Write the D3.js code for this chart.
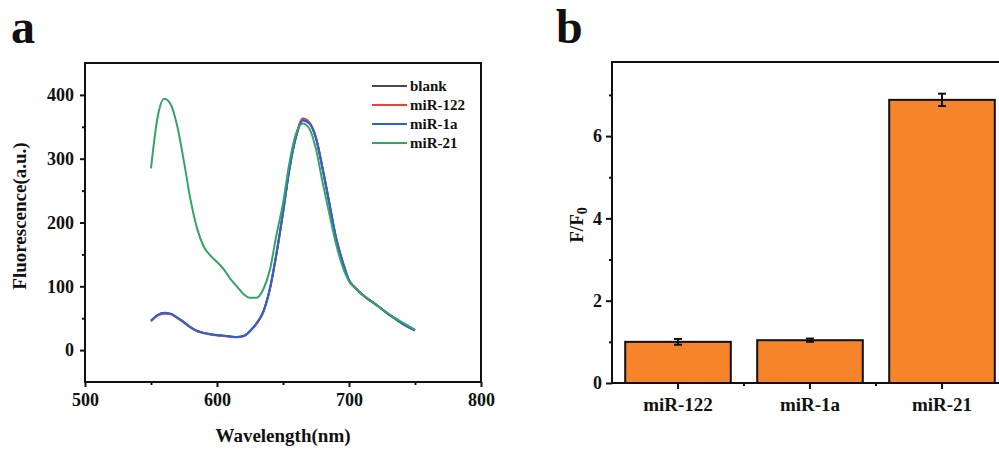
<!DOCTYPE html>
<html>
<head>
<meta charset="utf-8">
<script src="https://cdn.jsdelivr.net/npm/d3@7"></script>
<style>
  body { margin: 0; background: #fff; }
  svg { display: block; }
  text { font-family: "Liberation Serif", "Times New Roman", serif; font-weight: bold; fill: #111; }
</style>
</head>
<body>
<svg width="999" height="450"></svg>
<script>
// ---- data ----
const wavelengths = [550, 555, 560, 565, 570, 575, 580, 585, 590, 595,
                     600, 605, 610, 615, 620, 625, 630, 635, 640, 645,
                     650, 655, 660, 665, 670, 675, 680, 685, 690, 695,
                     700, 705, 710, 715, 720, 725, 730, 735, 740, 745, 750]

const blank  = [46, 55, 58, 56.5, 50.5, 43.5, 35.5, 30, 27, 25,
                23.5, 22.5, 21.5, 20.5, 22, 30, 42, 60, 96, 151,
                216, 286, 336, 361, 356, 332, 284, 231, 177, 139,
                109, 97, 87, 79, 72, 64, 56, 49, 42, 36, 31]
const mir122 = [45, 54, 57, 56, 50, 43, 35, 29.5, 26.5, 24.5,
                23, 22, 21, 20, 21.5, 29.5, 41.5, 59, 95, 150,
                215, 286, 337, 363, 357, 333, 285, 232, 178, 140,
                109, 97, 87, 79, 72, 64, 56.5, 49.5, 43, 36.5, 31]
const mir1a  = [46, 55, 58.5, 57, 51, 44, 36, 30, 27, 25,
                23.5, 22.5, 21.5, 20.5, 22, 30, 42, 60, 95, 150,
                215, 285, 335, 360, 355, 332, 285, 232, 178, 140,
                110, 97, 87, 79, 72, 64, 56, 49, 42, 36, 31]
const mir21  = [285, 365, 394, 385, 350, 295, 235, 190, 162, 148,
                138, 127, 112, 100, 88, 82, 82, 95, 125, 180,
                230, 295, 340, 355, 347, 315, 263, 215, 168, 132,
                108, 97, 87, 80, 72, 64, 57, 50, 44, 38, 32]

const seriesNames  = ['blank', 'miR-122', 'miR-1a', 'miR-21']
const seriesColors = ['#4a4a4a', '#e8403c', '#2763d8', '#33a466']

const xTicksA = [500, 600, 700, 800]
const xMinorA = [550, 650, 750]
const yTicksA = [0, 100, 200, 300, 400]
const yMinorA = [50, 150, 250, 350]

const categories = ['miR-122', 'miR-1a', 'miR-21']
const ratios     = [1.00, 1.04, 6.88]
const ratioErr   = [0.07, 0.04, 0.15]
const yTicksB = [0, 2, 4, 6]
const yMinorB = [1, 3, 5, 7]

const svg = d3.select('svg')

// ---------------- panel a ----------------
const x = d3.scaleLinear().domain([500, 800]).range([85, 481])
const y = d3.scaleLinear().domain([-50, 450]).range([382, 63])

svg.append('text').attr('x', 11).attr('y', 43)
  .style('font-size', '48px').text('a')

const gA = svg.append('g')

// x axis (major + minor)
gA.append('g').attr('transform', 'translate(0,382)')
  .call(d3.axisBottom(x).tickValues(xTicksA).tickSize(5).tickPadding(6))
  .call(g => g.select('.domain').remove())
  .call(g => g.selectAll('text').style('font-size', '18px').attr('fill', '#111'))
gA.append('g').attr('transform', 'translate(0,382)')
  .call(d3.axisBottom(x).tickValues(xMinorA).tickSize(3).tickFormat(''))
  .call(g => g.select('.domain').remove())

// y axis (major + minor)
gA.append('g').attr('transform', 'translate(85,0)')
  .call(d3.axisLeft(y).tickValues(yTicksA).tickSize(5).tickPadding(6))
  .call(g => g.select('.domain').remove())
  .call(g => g.selectAll('text').style('font-size', '18px').attr('fill', '#111'))
gA.append('g').attr('transform', 'translate(85,0)')
  .call(d3.axisLeft(y).tickValues(yMinorA).tickSize(3).tickFormat(''))
  .call(g => g.select('.domain').remove())

gA.selectAll('.tick line').attr('stroke', '#111').attr('stroke-width', 2)

// spectra
const line = d3.line()
  .x((d, i) => x(wavelengths[i]))
  .y(d => y(d))
  .curve(d3.curveMonotoneX)

const spectra = [blank, mir122, mir1a, mir21]
gA.selectAll('path.spec')
  .data(spectra)
  .enter()
  .append('path')
  .attr('class', 'spec')
  .attr('d', line)
  .attr('fill', 'none')
  .attr('stroke', (d, i) => seriesColors[i])
  .attr('stroke-width', 2)

// frame
gA.append('rect')
  .attr('x', 85).attr('y', 63)
  .attr('width', 481 - 85).attr('height', 382 - 63)
  .attr('fill', 'none').attr('stroke', '#111').attr('stroke-width', 2)

// legend
let legend = gA.selectAll('g.leg')
  .data(seriesNames)
  .enter()
  .append('g')
  .attr('class', 'leg')
  .attr('transform', (d, i) => 'translate(372,' + (86 + i * 19) + ')')
legend.append('line')
  .attr('x1', 0).attr('x2', 35)
  .attr('stroke', (d, i) => seriesColors[i])
  .attr('stroke-width', 2)
legend.append('text')
  .attr('x', 38).attr('dy', '0.35em')
  .style('font-size', '15px')
  .text(d => d)

// axis titles
svg.append('text')
  .attr('x', 283).attr('y', 442)
  .attr('text-anchor', 'middle')
  .style('font-size', '19px')
  .text('Wavelength(nm)')
svg.append('text')
  .attr('transform', 'translate(26,216) rotate(-90)')
  .attr('text-anchor', 'middle')
  .style('font-size', '19px')
  .text('Fluorescence(a.u.)')

// ---------------- panel b ----------------
const xb = d3.scaleBand().domain(categories).range([612, 1008])
  .paddingInner(0.2).paddingOuter(0.1)
const yb = d3.scaleLinear().domain([0, 7.8]).range([383, 62])

svg.append('text').attr('x', 556).attr('y', 43)
  .style('font-size', '48px').text('b')

const gB = svg.append('g')

// bars
gB.selectAll('rect.bar')
  .data(ratios)
  .enter()
  .append('rect')
  .attr('class', 'bar')
  .attr('x', (d, i) => xb(categories[i]))
  .attr('y', d => yb(d))
  .attr('width', xb.bandwidth())
  .attr('height', d => yb(0) - yb(d))
  .attr('fill', '#f5842a')
  .attr('stroke', '#111')
  .attr('stroke-width', 2)

// error bars
let err = gB.selectAll('g.err')
  .data(ratios)
  .enter()
  .append('g')
  .attr('class', 'err')
  .attr('transform', (d, i) => 'translate(' + (xb(categories[i]) + xb.bandwidth() / 2) + ',0)')
err.append('line')
  .attr('y1', (d, i) => yb(d + ratioErr[i]))
  .attr('y2', (d, i) => yb(d - ratioErr[i]))
  .attr('stroke', '#111').attr('stroke-width', 2)
err.append('line')
  .attr('x1', -4).attr('x2', 4)
  .attr('y1', (d, i) => yb(d + ratioErr[i])).attr('y2', (d, i) => yb(d + ratioErr[i]))
  .attr('stroke', '#111').attr('stroke-width', 2)
err.append('line')
  .attr('x1', -4).attr('x2', 4)
  .attr('y1', (d, i) => yb(d - ratioErr[i])).attr('y2', (d, i) => yb(d - ratioErr[i]))
  .attr('stroke', '#111').attr('stroke-width', 2)

// y axis
gB.append('g').attr('transform', 'translate(612,0)')
  .call(d3.axisLeft(yb).tickValues(yTicksB).tickSize(6).tickPadding(4))
  .call(g => g.select('.domain').remove())
  .call(g => g.selectAll('text').style('font-size', '18px').attr('fill', '#111'))
gB.append('g').attr('transform', 'translate(612,0)')
  .call(d3.axisLeft(yb).tickValues(yMinorB).tickSize(3).tickFormat(''))
  .call(g => g.select('.domain').remove())

// x axis: category ticks + minor ticks between bars
gB.append('g').attr('transform', 'translate(0,383)')
  .call(d3.axisBottom(xb).tickSize(6).tickPadding(9))
  .call(g => g.select('.domain').remove())
  .call(g => g.selectAll('text').style('font-size', '19px').attr('fill', '#111'))
const between = categories.slice(1).map(c => xb(c) - xb.step() * xb.paddingInner() / 2)
gB.selectAll('line.minor')
  .data(between)
  .enter()
  .append('line')
  .attr('class', 'minor')
  .attr('x1', d => d).attr('x2', d => d)
  .attr('y1', 383).attr('y2', 386)

gB.selectAll('.tick line, line.minor').attr('stroke', '#111').attr('stroke-width', 2)

// frame
gB.append('rect')
  .attr('x', 612).attr('y', 62)
  .attr('width', 1008 - 612).attr('height', 383 - 62)
  .attr('fill', 'none').attr('stroke', '#111').attr('stroke-width', 2)

// y title with subscript
let fTitle = svg.append('text')
  .attr('transform', 'translate(583,225) rotate(-90)')
  .attr('text-anchor', 'middle')
  .style('font-size', '19px')
fTitle.append('tspan').text('F/F')
fTitle.append('tspan').text('0').style('font-size', '14px').attr('dy', '0.3em')
</script>
</body>
</html>
